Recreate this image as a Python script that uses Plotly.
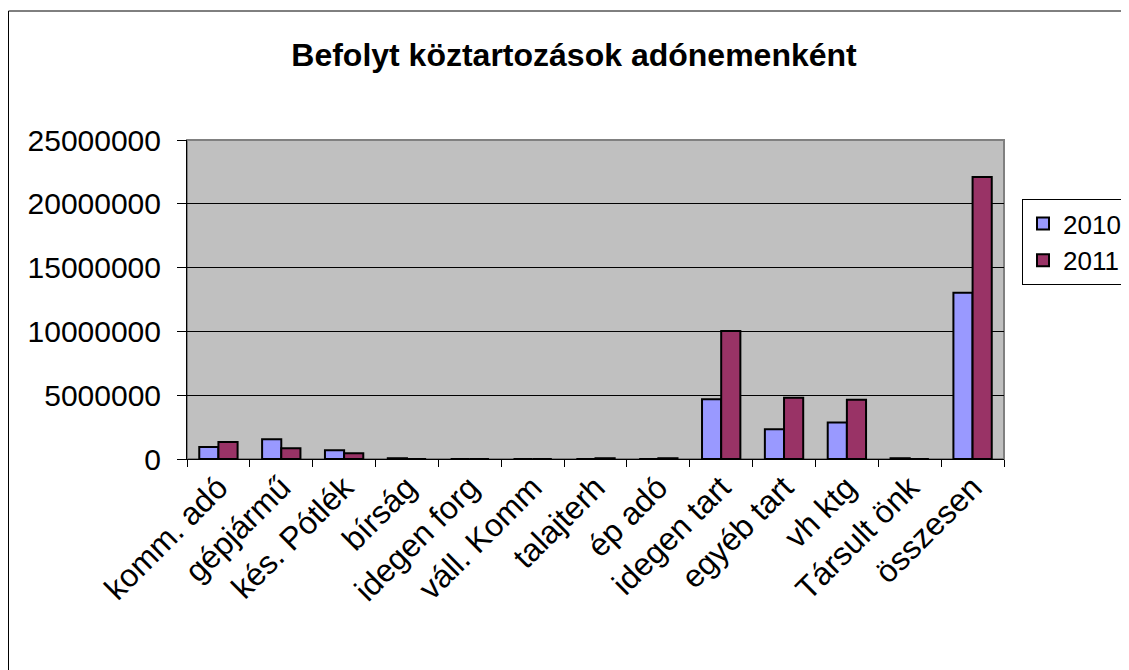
import plotly.graph_objects as go

categories = ["komm. adó", "gépjármű", "kés. Pótlék", "bírság", "idegen forg", "váll. Komm",
              "talajterh", "ép adó", "idegen tart", "egyéb tart", "vh ktg", "Társult önk", "összesen"]
values_2010 = [940000, 1540000, 680000, 60000, 0, 0, 0, 0, 4680000, 2330000, 2870000, 60000, 13030000]
values_2011 = [1330000, 840000, 450000, 0, 0, 0, 60000, 60000, 10030000, 4800000, 4650000, 0, 22100000]
series_names = ["2010", "2011"]
y_ticks = [0, 5000000, 10000000, 15000000, 20000000, 25000000]

# page has an 8px body margin, so the figure is drawn 8px smaller and offset
OFF = 8
W, H = 1129 - OFF, 670 - OFF
L, R, T, B = 187 - OFF, 1004 - OFF, 140 - OFF, 459 - OFF

FONT = "Liberation Sans, Arial, sans-serif"

fig = go.Figure()
fig.add_trace(go.Bar(x=categories, y=values_2010, name=series_names[0],
                     marker=dict(color="#9999FF", line=dict(color="black", width=2))))
fig.add_trace(go.Bar(x=categories, y=values_2011, name=series_names[1],
                     marker=dict(color="#993366", line=dict(color="black", width=2))))

fig.update_layout(
    width=W, height=H,
    margin=dict(l=L, r=W - R, t=T, b=H - B, pad=0, autoexpand=False),
    paper_bgcolor="white",
    plot_bgcolor="#C0C0C0",
    barmode="group",
    bargap=0.39,
    bargroupgap=0,
    font=dict(family=FONT, size=30, color="black"),
    title=dict(text="<b>Befolyt köztartozások adónemenként</b>",
               x=(574 - OFF) / W, xanchor="center", y=1 - (55 - OFF) / H, yanchor="middle",
               font=dict(family=FONT, size=32, color="black")),
    showlegend=True,
    legend=dict(x=(1022 - 187) / (R - L), xanchor="left", y=1 - (199 - 140) / (B - T), yanchor="top",
                bordercolor="black", borderwidth=1, bgcolor="white",
                font=dict(family=FONT, size=26), tracegroupgap=0,
                itemwidth=30),
    xaxis=dict(type="category", showgrid=False, showline=True, linecolor="black", linewidth=1,
               ticks="outside", tickson="boundaries", ticklen=7, tickcolor="black",
               tickangle=-45, tickfont=dict(family=FONT, size=32), mirror=False,
               ticklabelstandoff=-4),
    yaxis=dict(range=[0, 25000000], tickvals=y_ticks, ticktext=[str(v) for v in y_ticks],
               showgrid=True, gridcolor="black", gridwidth=1, showline=True, linecolor="black",
               linewidth=1, ticks="outside", ticklen=9, tickcolor="black",
               tickfont=dict(family=FONT, size=30), zeroline=False,
               ticklabelstandoff=10),
)

# gray border of plot area
fig.add_shape(type="rect", xref="paper", yref="paper", x0=0, x1=1, y0=0, y1=1,
              line=dict(color="#808080", width=2), layer="below")
# outer chart border (left and top visible; right/bottom run off the picture)
fig.add_shape(type="rect", xref="paper", yref="paper",
              x0=(0.5 - L) / (R - L), x1=(W + 20 - L) / (R - L),
              y0=-(H + 20 - B) / (B - T), y1=1 + (T - 3) / (B - T),
              line=dict(color="black", width=1), fillcolor="rgba(0,0,0,0)")

fig.write_html("out.html")
